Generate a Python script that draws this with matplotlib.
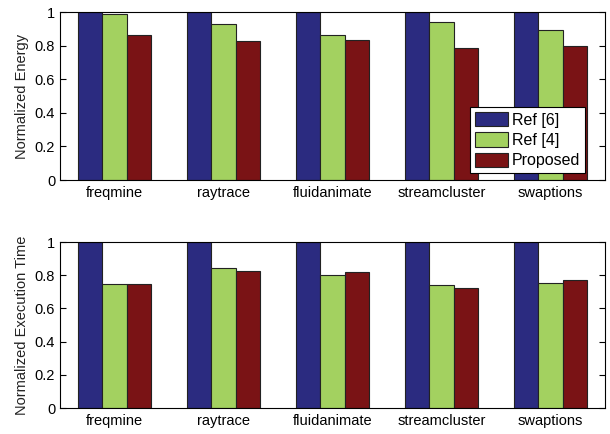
import matplotlib.pyplot as plt
import numpy as np

benchmarks = ['freqmine', 'raytrace', 'fluidanimate', 'streamcluster', 'swaptions']
series_names = ['Ref [6]', 'Ref [4]', 'Proposed']

# normalized energy per benchmark
energy_ref6 = [1.0, 1.0, 1.0, 1.0, 1.0]
energy_ref4 = [0.99, 0.93, 0.865, 0.94, 0.89]
energy_prop = [0.865, 0.828, 0.833, 0.783, 0.80]

# normalized execution time per benchmark
time_ref6 = [1.0, 1.0, 1.0, 1.0, 1.0]
time_ref4 = [0.748, 0.845, 0.803, 0.738, 0.753]
time_prop = [0.745, 0.826, 0.817, 0.722, 0.770]

colors = ['#2b2b80', '#a3d160', '#7a1315']

plt.rcParams['font.family'] = ['Liberation Sans', 'DejaVu Sans']

fig = plt.figure(figsize=(6.1, 4.34), dpi=100)
ax1 = fig.add_axes([60/610, 1-180/434, 545/610, 168/434])
ax2 = fig.add_axes([60/610, 1-408/434, 545/610, 166/434])

x = np.arange(1, len(benchmarks) + 1)
bw = 0.222

def draw(ax, data, ylabel):
    for k, vals in enumerate(data):
        ax.bar(x + (k - 1) * bw, vals, bw, color=colors[k],
               edgecolor='#222222', linewidth=0.8, label=series_names[k])
    ax.set_xlim(0.5, 5.5)
    ax.set_ylim(0, 1)
    ax.set_yticks([0, 0.2, 0.4, 0.6, 0.8, 1])
    ax.set_yticklabels(['0', '0.2', '0.4', '0.6', '0.8', '1'])
    ax.set_xticks(x)
    ax.set_xticklabels(benchmarks)
    ax.tick_params(axis='y', direction='in', right=True, length=4, labelsize=10.5)
    ax.tick_params(axis='x', length=0, labelsize=10.5, pad=4)
    ax.set_ylabel(ylabel, fontsize=10.5, color='#222222')
    for s in ax.spines.values():
        s.set_linewidth(0.8)

draw(ax1, [energy_ref6, energy_ref4, energy_prop], 'Normalized Energy')
draw(ax2, [time_ref6, time_ref4, time_prop], 'Normalized Execution Time')

leg = ax1.legend(loc='lower right', bbox_to_anchor=(0.963, 0.04), fontsize=11.5,
                 frameon=True, fancybox=False, edgecolor='black', framealpha=1,
                 handlelength=2.1, handleheight=1.0, handletextpad=0.2,
                 labelspacing=0.3, borderpad=0.3, borderaxespad=0)
leg.get_frame().set_linewidth(0.8)

fig.savefig('out.png', dpi=100)
